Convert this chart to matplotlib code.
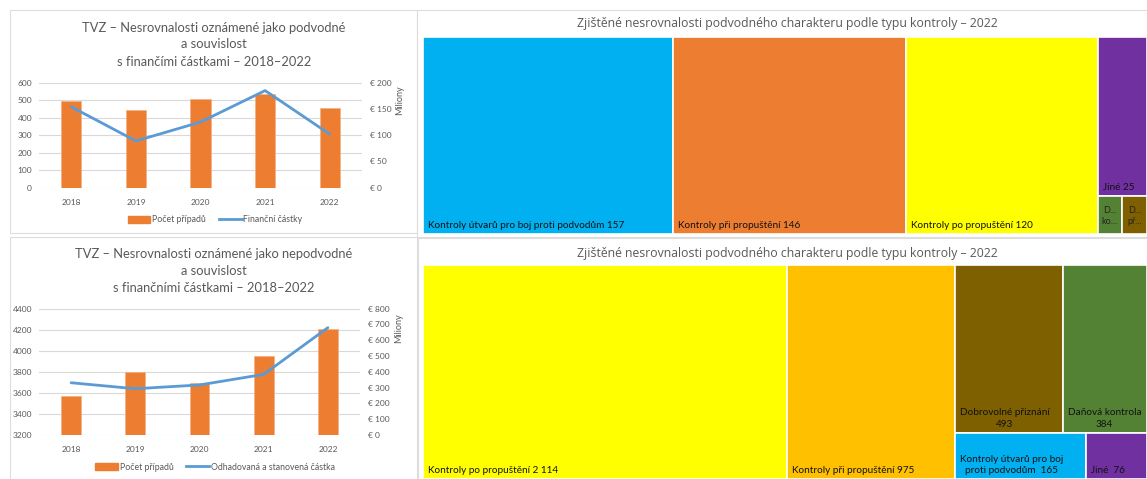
import matplotlib
matplotlib.use("Agg")
import matplotlib.pyplot as plt
from matplotlib.patches import Rectangle, Patch
from matplotlib.lines import Line2D

W, H = 1147, 479

# ---------------- data ----------------
years = ["2018", "2019", "2020", "2021", "2022"]
fraud_cases = [495, 442, 509, 534, 455]
fraud_amounts = [154, 89, 125, 185, 102]          # € millions
nonfraud_cases = [3568, 3798, 3691, 3951, 4204]
nonfraud_amounts = [331, 293, 317, 384, 680]     # € millions

tm1_labels = ["Kontroly útvarů pro boj proti podvodům", "Kontroly při propuštění",
              "Kontroly po propuštění", "Jiné", "Daňová kontrola", "Dobrovolné přiznání"]
tm1_values = [157, 146, 120, 25, 3, 3]
tm1_text = ["Kontroly útvarů pro boj proti podvodům 157", "Kontroly při propuštění 146",
            "Kontroly po propuštění 120", "Jiné 25", "D...\nko...", "D...\npř..."]
tm1_colors = ["#00B0F0", "#ED7D31", "#FFFF00", "#7030A0", "#548235", "#7F6000"]

tm2_labels = ["Kontroly po propuštění", "Kontroly při propuštění", "Dobrovolné přiznání",
              "Daňová kontrola", "Kontroly útvarů pro boj proti podvodům", "Jiné"]
tm2_values = [2114, 975, 493, 384, 165, 76]
tm2_text = ["Kontroly po propuštění 2 114", "Kontroly při propuštění 975",
            "Dobrovolné přiznání\n493", "Daňová kontrola\n384",
            "Kontroly útvarů pro boj\nproti podvodům  165", "Jiné  76"]
tm2_colors = ["#FFFF00", "#FFC000", "#7F6000", "#548235", "#00B0F0", "#7030A0"]

BAR = "#ED7D31"
LINE = "#5B9BD5"
GRID = "#D9D9D9"
TXT = "#595959"
FONT = "Lato"
TFONT = "Open Sans"

fig = plt.figure(figsize=(W / 100, H / 100), dpi=100)
fig.patch.set_facecolor("white")


def rect(x0, y0, x1, y1):
    return [x0 / W, 1 - y1 / H, (x1 - x0) / W, (y1 - y0) / H]


def fxy(x, y):
    return x / W, 1 - y / H


# panel borders
for (x0, y0, x1, y1) in [(10, 10, 417, 233), (10, 237, 418, 482),
                         (417, 10, 1150, 237), (417, 238, 1150, 482)]:
    fig.patches.append(Rectangle((x0 / W, 1 - y1 / H), (x1 - x0) / W, (y1 - y0) / H,
                                 transform=fig.transFigure, fill=False,
                                 edgecolor="#DDDDDD", linewidth=0.8))


def combo(ax_rect, cases, amounts, ylim, yticks, y2lim, y2ticks, title_lines, title_y,
          line_label, legend_y, miliony_xy, legend_x):
    ax = fig.add_axes(rect(*ax_rect))
    x = list(range(len(years)))
    ax.bar(x, cases, width=0.31, color=BAR, edgecolor="#F4B183", linewidth=0.5, zorder=2)
    ax.set_ylim(*ylim)
    ax.set_yticks(yticks)
    ax.set_xlim(-0.5, len(years) - 0.5)
    ax.set_xticks(x)
    ax.set_xticklabels(years)
    ax.grid(axis="y", color=GRID, linewidth=0.8, zorder=0)
    for s in ax.spines.values():
        s.set_visible(False)
    ax.tick_params(axis="x", length=0, labelsize=6, labelcolor=TXT, pad=8)
    ax.tick_params(axis="y", length=0, labelsize=6, labelcolor=TXT, pad=5)
    for t in ax.get_xticklabels() + ax.get_yticklabels():
        t.set_fontfamily(FONT)
    ax2 = ax.twinx()
    ax2.plot(x, amounts, color=LINE, linewidth=2, zorder=3, solid_capstyle="round")
    ax2.set_ylim(*y2lim)
    ax2.set_yticks(y2ticks)
    ax2.set_yticklabels([f"€ {v}" for v in y2ticks])
    for s in ax2.spines.values():
        s.set_visible(False)
    ax2.tick_params(length=0, labelsize=6, labelcolor=TXT, pad=6)
    for t in ax2.get_yticklabels():
        t.set_fontfamily(FONT)
    for line, ty in zip(title_lines, title_y):
        fig.text(*fxy(214, ty), line, ha="center", va="center", fontsize=9.3,
                 color=TXT, fontfamily=FONT)
    fig.text(*fxy(*miliony_xy), "Miliony", rotation=90, ha="center", va="center",
             fontsize=6.5, color=TXT, fontfamily=FONT)
    handles = [Patch(facecolor=BAR, edgecolor=BAR, label="Počet případů"),
               Line2D([0], [0], color=LINE, linewidth=2, label=line_label)]
    fig.legend(handles=handles, loc="center", bbox_to_anchor=fxy(legend_x, legend_y),
               bbox_transform=fig.transFigure, ncol=2, frameon=False,
               prop={"family": FONT, "size": 6.3}, labelcolor=TXT,
               handlelength=2.6, handleheight=0.9, columnspacing=1.5, handletextpad=0.2)


combo((39, 82.7, 362, 187.7), fraud_cases, fraud_amounts, (0, 600), range(0, 601, 100),
      (0, 200), list(range(0, 201, 50)),
      ["TVZ – Nesrovnalosti oznámené jako podvodné", "a souvislost",
       "s finančími částkami – 2018–2022"], [28, 44, 62],
      "Finanční částky", 220, (400, 100), 215)

combo((39, 308.7, 360, 435), nonfraud_cases, nonfraud_amounts, (3200, 4400),
      range(3200, 4401, 200), (0, 800), list(range(0, 801, 100)),
      ["TVZ – Nesrovnalosti oznámené jako nepodvodné", "a souvislost",
       "s finančními částkami – 2018–2022"], [254, 271, 288],
      "Odhadovaná a stanovená částka", 467, (399, 328), 215)


# ---------------- treemaps ----------------
def worst(row, side):
    s = sum(row)
    return max(max(side * side * r / (s * s), s * s / (side * side * r)) for r in row)


def squarify(values, x, y, w, h):
    total = sum(values)
    areas = [v / total * w * h for v in values]
    rects = []
    while areas:
        side = min(w, h)
        row = [areas[0]]
        i = 1
        while i < len(areas) and worst(row + [areas[i]], side) <= worst(row, side):
            row.append(areas[i])
            i += 1
        areas = areas[i:]
        s = sum(row)
        if w >= h:
            cw = s / h
            yy = y
            for r in row:
                rh = r / cw
                rects.append((x, yy, cw, rh))
                yy += rh
            x += cw
            w -= cw
        else:
            rh = s / w
            xx = x
            for r in row:
                rw = r / rh
                rects.append((xx, y, rw, rh))
                xx += rw
            y += rh
            h -= rh
    return rects


def treemap(box, values, texts, colors, title, title_y, centered_small=()):
    x0, y0, x1, y1 = box
    w, h = x1 - x0, y1 - y0
    ax = fig.add_axes(rect(*box))
    ax.set_xlim(0, w)
    ax.set_ylim(h, 0)
    ax.axis("off")
    for i, ((rx, ry, rw, rh), txt, c) in enumerate(zip(squarify(values, 0, 0, w, h), texts, colors)):
        ax.add_patch(Rectangle((rx, ry), rw, rh, facecolor=c, edgecolor="white", linewidth=1.2))
        if i in centered_small:
            ax.text(rx + rw / 2, ry + rh / 2 + 1, txt, ha="center", va="center",
                    multialignment="center", fontsize=6.5, color="#222222",
                    fontfamily=FONT, linespacing=1.4, clip_on=True)
        else:
            ax.text(rx + 5, ry + rh - 4, txt, ha="left", va="bottom",
                    multialignment="center", fontsize=7.2, color="#111111",
                    fontfamily=FONT, linespacing=1.35, clip_on=True)
    fig.text(*fxy(787, title_y), title, ha="center", va="center", fontsize=8.8,
             color=TXT, fontfamily=TFONT)


treemap((423, 37, 1147, 234), tm1_values, tm1_text, tm1_colors,
        "Zjištěné nesrovnalosti podvodného charakteru podle typu kontroly – 2022", 24,
        centered_small=(4, 5))
treemap((423, 265, 1147, 479), tm2_values, tm2_text, tm2_colors,
        "Zjištěné nesrovnalosti podvodného charakteru podle typu kontroly – 2022", 253)

fig.savefig("out.png", dpi=100, facecolor="white")
